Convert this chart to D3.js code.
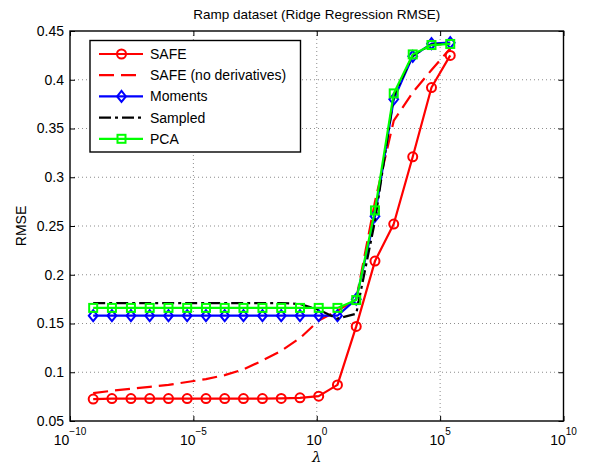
<!DOCTYPE html>
<html>
<head>
<meta charset="utf-8">
<script src="https://cdn.jsdelivr.net/npm/d3@7"></script>
<style>
  html, body { margin: 0; padding: 0; background: #fff; }
  svg { display: block; font-family: "Liberation Sans", Arial, Helvetica, sans-serif; }
</style>
</head>
<body>
<svg id="chart" width="590" height="466"></svg>
<script>
// ---------- data ----------
const lambdas = [8.7e-10, 5.0e-9, 2.95e-8, 1.7e-7, 9.8e-7, 5.6e-6, 3.24e-5, 1.86e-4, 1.07e-3, 6.3e-3,
                 3.63e-2, 0.209, 1.2, 6.9, 39.8, 229, 1318, 7762, 44668, 257040];

const safe        = [0.0725, 0.073, 0.073, 0.073, 0.073, 0.073, 0.073, 0.073, 0.073, 0.073,
                     0.0732, 0.0738, 0.0755, 0.087, 0.147, 0.214, 0.252, 0.321, 0.392, 0.425];
const safeNoDeriv = [0.0786, 0.081, 0.083, 0.085, 0.087, 0.090, 0.093, 0.097, 0.103, 0.112,
                     0.122, 0.135, 0.153, 0.163, 0.175, 0.275, 0.358, 0.387, 0.410, 0.432];
const moments     = [0.158, 0.158, 0.158, 0.158, 0.158, 0.158, 0.158, 0.158, 0.158, 0.158,
                     0.158, 0.158, 0.158, 0.158, 0.175, 0.260, 0.380, 0.424, 0.437, 0.438];
const sampled     = [0.171, 0.171, 0.171, 0.171, 0.171, 0.171, 0.171, 0.171, 0.171, 0.171,
                     0.171, 0.170, 0.164, 0.155, 0.160, 0.255, 0.383, 0.425, 0.436, 0.437];
const pca         = [0.166, 0.166, 0.166, 0.166, 0.166, 0.166, 0.166, 0.166, 0.166, 0.166,
                     0.166, 0.166, 0.166, 0.166, 0.174, 0.266, 0.386, 0.426, 0.4356, 0.4367];

const seriesNames  = ["SAFE", "SAFE (no derivatives)", "Moments", "Sampled", "PCA"];
const xTickValues  = [1e-10, 1e-5, 1, 1e5, 1e10];
const xTickExps    = ["\u221210", "\u22125", "0", "5", "10"];
const yTickValues  = [0.05, 0.1, 0.15, 0.2, 0.25, 0.3, 0.35, 0.4, 0.45];
const yTickLabels  = ["0.05", "0.1", "0.15", "0.2", "0.25", "0.3", "0.35", "0.4", "0.45"];
const titleText    = "Ramp dataset (Ridge Regression RMSE)";
const xLabelText   = "\u03bb";
const yLabelText   = "RMSE";

// ---------- layout ----------
const L = 70, R = 563.5, T = 31, B = 421;
const svg = d3.select("#chart");
const x = d3.scaleLog().domain([1e-10, 1e10]).range([L, R]);
const y = d3.scaleLinear().domain([0.05, 0.45]).range([B, T]);

// grid
const grid = svg.append("g").attr("stroke", "#333").attr("stroke-width", 0.8)
  .attr("stroke-dasharray", "1,3").attr("opacity", 0.7);
xTickValues.slice(1, -1).forEach(v => {
  grid.append("line").attr("x1", x(v)).attr("x2", x(v)).attr("y1", T).attr("y2", B);
});
yTickValues.slice(1, -1).forEach(v => {
  grid.append("line").attr("x1", L).attr("x2", R).attr("y1", y(v)).attr("y2", y(v));
});

// axes (inward ticks)
const axB = svg.append("g").attr("transform", `translate(0,${B})`)
  .call(d3.axisBottom(x).tickValues(xTickValues).tickSizeInner(-5).tickSizeOuter(0).tickFormat(() => ""));
const axT = svg.append("g").attr("transform", `translate(0,${T})`)
  .call(d3.axisTop(x).tickValues(xTickValues).tickSizeInner(-5).tickSizeOuter(0).tickFormat(() => ""));
const axL = svg.append("g").attr("transform", `translate(${L},0)`)
  .call(d3.axisLeft(y).tickValues(yTickValues).tickSizeInner(-5).tickSizeOuter(0).tickPadding(6)
    .tickFormat((d, i) => yTickLabels[i]));
const axR = svg.append("g").attr("transform", `translate(${R},0)`)
  .call(d3.axisRight(y).tickValues(yTickValues).tickSizeInner(-5).tickSizeOuter(0).tickFormat(() => ""));
[axB, axT, axL, axR].forEach(g => {
  g.select(".domain").remove();
  g.selectAll("line").attr("stroke", "#000").attr("stroke-width", 1);
});
axL.selectAll("text").attr("font-size", 14).attr("fill", "#000")
  .attr("font-family", "Liberation Sans, Arial, sans-serif");

// x tick labels with superscripts
xTickValues.forEach((v, i) => {
  const t = svg.append("text").attr("x", x(v)).attr("y", 445).attr("text-anchor", "middle")
    .attr("font-size", 14).attr("fill", "#000");
  t.append("tspan").text("10");
  t.append("tspan").attr("dy", -10).attr("font-size", 10).text(xTickExps[i]);
});

// box
svg.append("rect").attr("x", L).attr("y", T).attr("width", R - L).attr("height", B - T)
  .attr("fill", "none").attr("stroke", "#000").attr("stroke-width", 1.4);

// labels
svg.append("text").attr("x", (L + R) / 2).attr("y", 19).attr("text-anchor", "middle")
  .attr("font-size", 13.5).text(titleText);
svg.append("text").attr("x", (L + R) / 2).attr("y", 462).attr("text-anchor", "middle")
  .attr("font-size", 15).attr("font-family", "DejaVu Serif, serif").attr("font-style", "italic").text(xLabelText);
svg.append("text").attr("transform", `translate(26,${(T + B) / 2}) rotate(-90)`)
  .attr("text-anchor", "middle").attr("font-size", 14).text(yLabelText);

// ---------- series ----------
const styles = [
  { data: safe,        color: "#ff0000", dash: null,        marker: "circle" },
  { data: safeNoDeriv, color: "#ff0000", dash: "15,7",      marker: null },
  { data: moments,     color: "#0000ff", dash: null,        marker: "diamond" },
  { data: sampled,     color: "#000000", dash: "12,4,3,4",  marker: null },
  { data: pca,         color: "#00ff00", dash: null,        marker: "square" }
];

const line = d3.line().x((d, i) => x(lambdas[i])).y(d => y(d));

function drawMarker(g, type, cx, cy, color) {
  if (type === "circle") {
    g.append("circle").attr("cx", cx).attr("cy", cy).attr("r", 4.5)
      .attr("fill", "none").attr("stroke", color).attr("stroke-width", 2);
  } else if (type === "diamond") {
    const s = 5.5;
    g.append("path").attr("d", `M${cx},${cy - s}L${cx + s * 0.8},${cy}L${cx},${cy + s}L${cx - s * 0.8},${cy}Z`)
      .attr("fill", "none").attr("stroke", color).attr("stroke-width", 2);
  } else if (type === "square") {
    const s = 4;
    g.append("rect").attr("x", cx - s).attr("y", cy - s).attr("width", 2 * s).attr("height", 2 * s)
      .attr("fill", "none").attr("stroke", color).attr("stroke-width", 2);
  }
}

const plot = svg.append("g");
styles.forEach(s => {
  const g = plot.append("g");
  g.append("path").attr("d", line(s.data)).attr("fill", "none").attr("stroke", s.color)
    .attr("stroke-width", 2.2).attr("stroke-dasharray", s.dash).attr("stroke-linejoin", "round");
  if (s.marker) {
    s.data.forEach((v, i) => drawMarker(g, s.marker, x(lambdas[i]), y(v), s.color));
  }
});

// ---------- legend ----------
const lg = svg.append("g");
lg.append("rect").attr("x", 90).attr("y", 40.5).attr("width", 210.5).attr("height", 111.5)
  .attr("fill", "#fff").attr("stroke", "#000").attr("stroke-width", 1.4);
styles.forEach((s, i) => {
  const ly = 54 + i * 21.2;
  lg.append("line").attr("x1", 99).attr("x2", 143).attr("y1", ly).attr("y2", ly)
    .attr("stroke", s.color).attr("stroke-width", 2.2).attr("stroke-dasharray", s.dash);
  if (s.marker) drawMarker(lg, s.marker, 121.5, ly, s.color);
  lg.append("text").attr("x", 150).attr("y", ly + 5).attr("font-size", 14).text(seriesNames[i]);
});
</script>
</body>
</html>
